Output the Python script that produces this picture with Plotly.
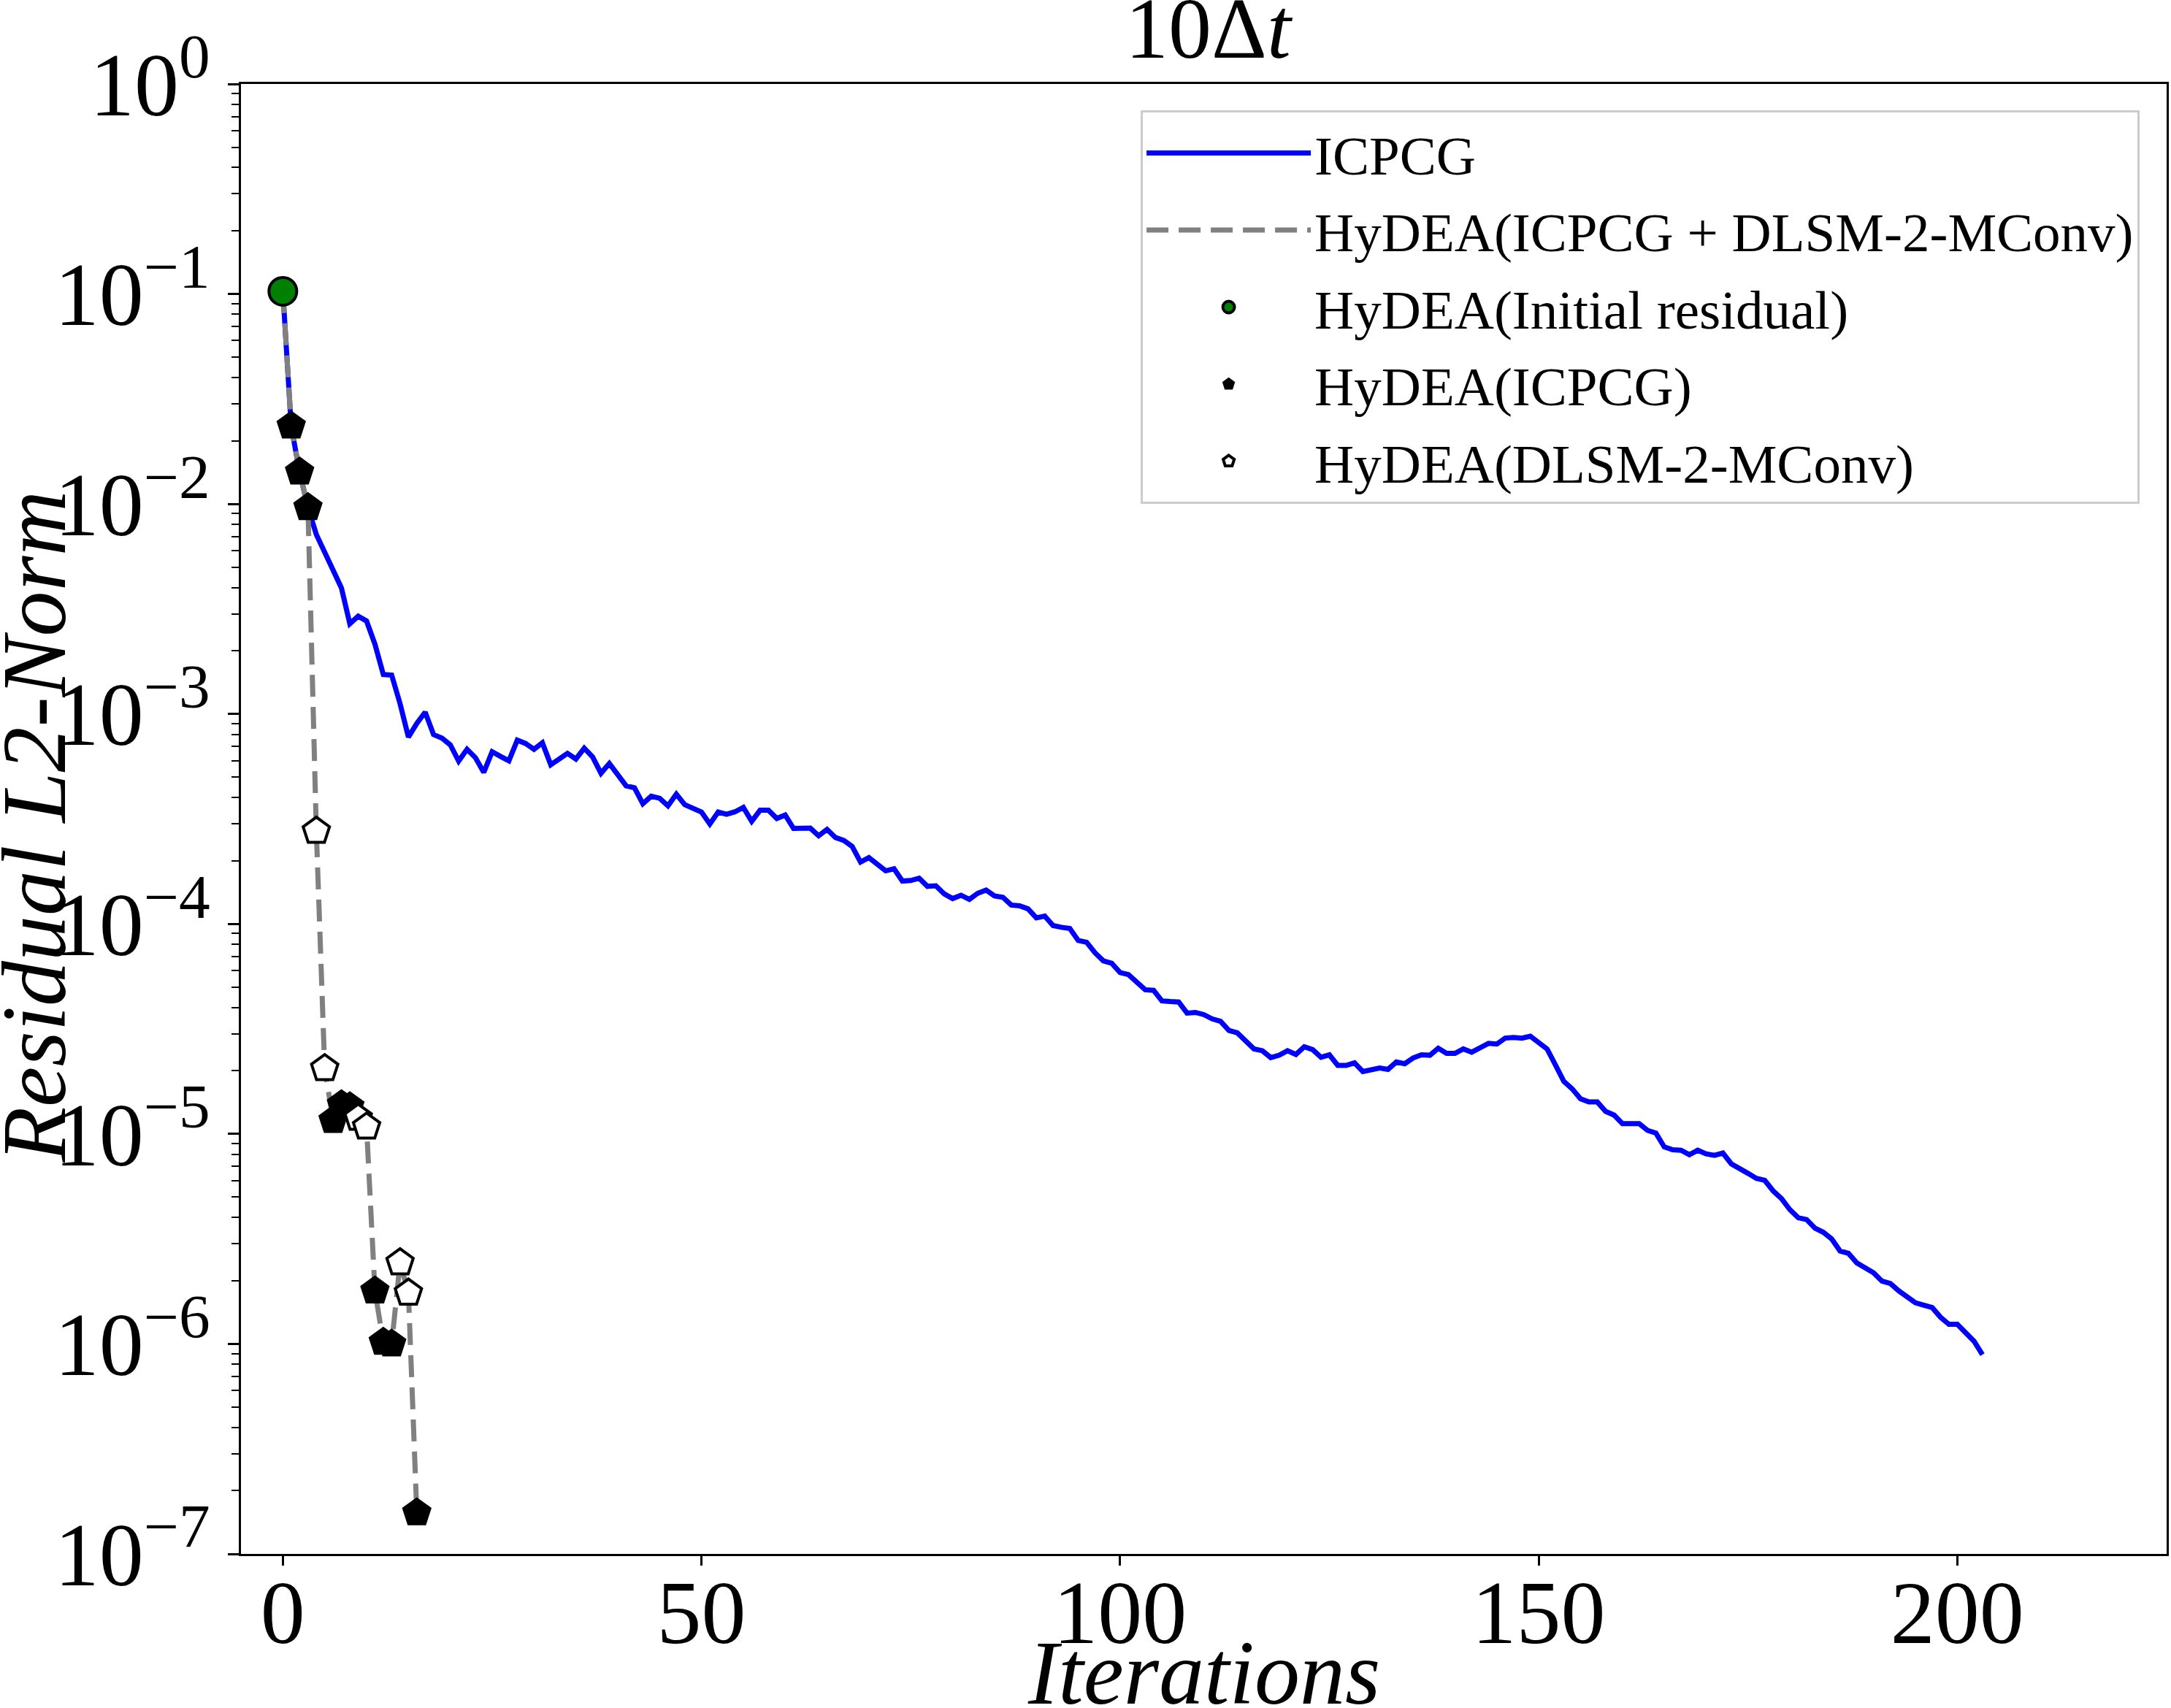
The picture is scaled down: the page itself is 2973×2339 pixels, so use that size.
import plotly.graph_objects as go

# ---------------- data ----------------
icpcg_iter = list(range(0, 204))
icpcg_res = [
    1.03e-1, 2.34e-2, 1.42e-2, 9.62e-3, 7.16e-3, 5.89e-3, 4.84e-3, 3.98e-3, 2.69e-3, 2.92e-3,
    2.77e-3, 2.15e-3, 1.54e-3, 1.53e-3, 1.12e-3, 7.76e-4, 9.02e-4, 1.02e-3, 7.98e-4, 7.67e-4,
    7.13e-4, 5.96e-4, 6.79e-4, 6.19e-4, 5.27e-4, 6.61e-4, 6.28e-4, 5.98e-4, 7.50e-4, 7.23e-4,
    6.79e-4, 7.29e-4, 5.73e-4, 6.10e-4, 6.49e-4, 6.10e-4, 6.87e-4, 6.24e-4, 5.22e-4, 5.81e-4,
    5.19e-4, 4.55e-4, 4.45e-4, 3.74e-4, 4.06e-4, 3.97e-4, 3.65e-4, 4.15e-4, 3.70e-4, 3.54e-4,
    3.41e-4, 2.99e-4, 3.41e-4, 3.33e-4, 3.42e-4, 3.59e-4, 3.08e-4, 3.48e-4, 3.48e-4, 3.18e-4,
    3.30e-4, 2.85e-4, 2.87e-4, 2.86e-4, 2.63e-4, 2.82e-4, 2.58e-4, 2.50e-4, 2.34e-4, 1.97e-4,
    2.07e-4, 1.94e-4, 1.79e-4, 1.83e-4, 1.60e-4, 1.61e-4, 1.65e-4, 1.51e-4, 1.52e-4, 1.39e-4,
    1.32e-4, 1.37e-4, 1.31e-4, 1.40e-4, 1.45e-4, 1.36e-4, 1.34e-4, 1.23e-4, 1.22e-4, 1.18e-4,
    1.07e-4, 1.09e-4, 9.82e-5, 9.64e-5, 9.51e-5, 8.34e-5, 8.18e-5, 7.29e-5, 6.67e-5, 6.50e-5,
    5.87e-5, 5.74e-5, 5.28e-5, 4.86e-5, 4.83e-5, 4.30e-5, 4.27e-5, 4.25e-5, 3.76e-5, 3.79e-5,
    3.70e-5, 3.53e-5, 3.44e-5, 3.11e-5, 3.03e-5, 2.75e-5, 2.54e-5, 2.49e-5, 2.31e-5, 2.37e-5,
    2.49e-5, 2.39e-5, 2.60e-5, 2.52e-5, 2.32e-5, 2.38e-5, 2.12e-5, 2.12e-5, 2.18e-5, 1.98e-5,
    2.03e-5, 2.06e-5, 2.03e-5, 2.20e-5, 2.16e-5, 2.30e-5, 2.38e-5, 2.37e-5, 2.56e-5, 2.42e-5,
    2.42e-5, 2.54e-5, 2.45e-5, 2.56e-5, 2.70e-5, 2.68e-5, 2.86e-5, 2.88e-5, 2.86e-5, 2.92e-5,
    2.73e-5, 2.54e-5, 2.13e-5, 1.78e-5, 1.64e-5, 1.47e-5, 1.42e-5, 1.42e-5, 1.28e-5, 1.23e-5,
    1.12e-5, 1.12e-5, 1.12e-5, 1.04e-5, 1.01e-5, 8.67e-6, 8.41e-6, 8.36e-6, 7.96e-6, 8.36e-6,
    8.04e-6, 7.91e-6, 8.11e-6, 7.21e-6, 6.89e-6, 6.49e-6, 6.14e-6, 6.01e-6, 5.36e-6, 4.92e-6,
    4.36e-6, 3.99e-6, 3.91e-6, 3.56e-6, 3.40e-6, 3.16e-6, 2.77e-6, 2.70e-6, 2.43e-6, 2.29e-6,
    2.18e-6, 1.99e-6, 1.94e-6, 1.79e-6, 1.67e-6, 1.57e-6, 1.53e-6, 1.49e-6, 1.34e-6, 1.24e-6,
    1.24e-6, 1.12e-6, 1.03e-6, 8.89e-7,
]

hydea_iter = list(range(0, 17))
hydea_res = [
    1.03e-1, 2.35e-2, 1.42e-2, 9.62e-3, 2.77e-4, 2.05e-5, 1.16e-5, 1.38e-5, 1.35e-5,
    1.19e-5, 1.08e-5, 1.79e-6, 1.02e-6, 1.00e-6, 2.44e-6, 1.75e-6, 1.57e-7,
]
# which solver produced each HyDEA iterate
hydea_kind = ["init", "icpcg", "icpcg", "icpcg", "dlsm", "dlsm", "icpcg", "icpcg", "icpcg",
              "dlsm", "dlsm", "icpcg", "icpcg", "icpcg", "dlsm", "dlsm", "icpcg"]

x_ticks = [0, 50, 100, 150, 200]
y_tick_vals = [1e0, 1e-1, 1e-2, 1e-3, 1e-4, 1e-5, 1e-6, 1e-7]
y_tick_text = ["10<sup>0</sup>", "10<sup>\u22121</sup>", "10<sup>\u22122</sup>", "10<sup>\u22123</sup>",
               "10<sup>\u22124</sup>", "10<sup>\u22125</sup>", "10<sup>\u22126</sup>", "10<sup>\u22127</sup>"]

FONT = "Liberation Serif, Times New Roman, serif"

def pick(kind):
    xs = [x for x, k in zip(hydea_iter, hydea_kind) if k == kind]
    ys = [y for y, k in zip(hydea_res, hydea_kind) if k == kind]
    return xs, ys

fig = go.Figure()
fig.add_trace(go.Scatter(x=icpcg_iter, y=icpcg_res, mode="lines", name="ICPCG",
                         legendgroup="g1",
                         line=dict(color="blue", width=7)))
fig.add_trace(go.Scatter(x=hydea_iter, y=hydea_res, mode="lines",
                         name="HyDEA(ICPCG + DLSM-2-MConv)", legendgroup="g2",
                         line=dict(color="gray", width=7, dash="30px,14px")))
xi, yi = pick("init")
fig.add_trace(go.Scatter(x=xi, y=yi, mode="markers", name="HyDEA(Initial residual)",
                         legendgroup="g3",
                         marker=dict(symbol="circle", size=38, color="green",
                                     line=dict(color="black", width=4))))
xi, yi = pick("icpcg")
fig.add_trace(go.Scatter(x=xi, y=yi, mode="markers", name="HyDEA(ICPCG)",
                         legendgroup="g4",
                         marker=dict(symbol="pentagon", size=40, color="black",
                                     line=dict(color="black", width=2))))
xi, yi = pick("dlsm")
fig.add_trace(go.Scatter(x=xi, y=yi, mode="markers", name="HyDEA(DLSM-2-MConv)",
                         legendgroup="g5",
                         marker=dict(symbol="pentagon", size=38, color="white",
                                     line=dict(color="black", width=4))))

minor_vals = [m * 10.0 ** e for e in range(-7, 0) for m in range(2, 10)]

fig.update_layout(
    width=2973, height=2339,
    margin=dict(l=330, r=3, t=115, b=211),
    plot_bgcolor="white", paper_bgcolor="white",
    font=dict(family=FONT, color="black"),
    showlegend=True,
    legend=dict(
        x=0.986, y=0.982, xanchor="right", yanchor="top",
        bgcolor="rgba(255,255,255,0.8)", bordercolor="#cccccc", borderwidth=3,
        font=dict(family=FONT, size=75, color="black"),
        itemwidth=225, tracegroupgap=5,
    ),
    xaxis=dict(
        range=[-5, 225], tickmode="array", tickvals=x_ticks,
        ticks="outside", ticklen=13, tickwidth=2.5, tickcolor="black",
        ticklabelstandoff=-40,
        showline=True, linewidth=3, linecolor="black", mirror=True,
        showgrid=False, zeroline=False,
        tickfont=dict(family=FONT, size=122, color="black"),
    ),
    yaxis=dict(
        type="log", range=[-7, 0], tickmode="array",
        tickvals=y_tick_vals, ticktext=y_tick_text,
        ticks="outside", ticklen=15, tickwidth=2.5, tickcolor="black",
        minor=dict(tickmode="array", tickvals=minor_vals, ticks="outside",
                   ticklen=10, tickwidth=2, tickcolor="black", showgrid=False),
        showline=True, linewidth=3, linecolor="black", mirror=True,
        showgrid=False, zeroline=False,
        tickfont=dict(family=FONT, size=122, color="black"),
    ),
    annotations=[
        dict(text="10\u0394<i>t</i>", xref="paper", yref="paper", x=0.503, y=1.004,
             xanchor="center", yanchor="bottom", showarrow=False,
             font=dict(family=FONT, size=118, color="black")),
        dict(text="<i>Iterations</i>", xref="paper", yref="paper", x=0.5, y=-0.081,
             xanchor="center", yanchor="middle", showarrow=False,
             font=dict(family=FONT, size=124, color="black")),
        dict(text="<i>Residual L2-Norm</i>", xref="paper", yref="paper", x=-0.107, y=0.495,
             xanchor="center", yanchor="middle", textangle=-90, showarrow=False,
             font=dict(family=FONT, size=124, color="black")),
    ],
)

fig.write_html("out.html")
